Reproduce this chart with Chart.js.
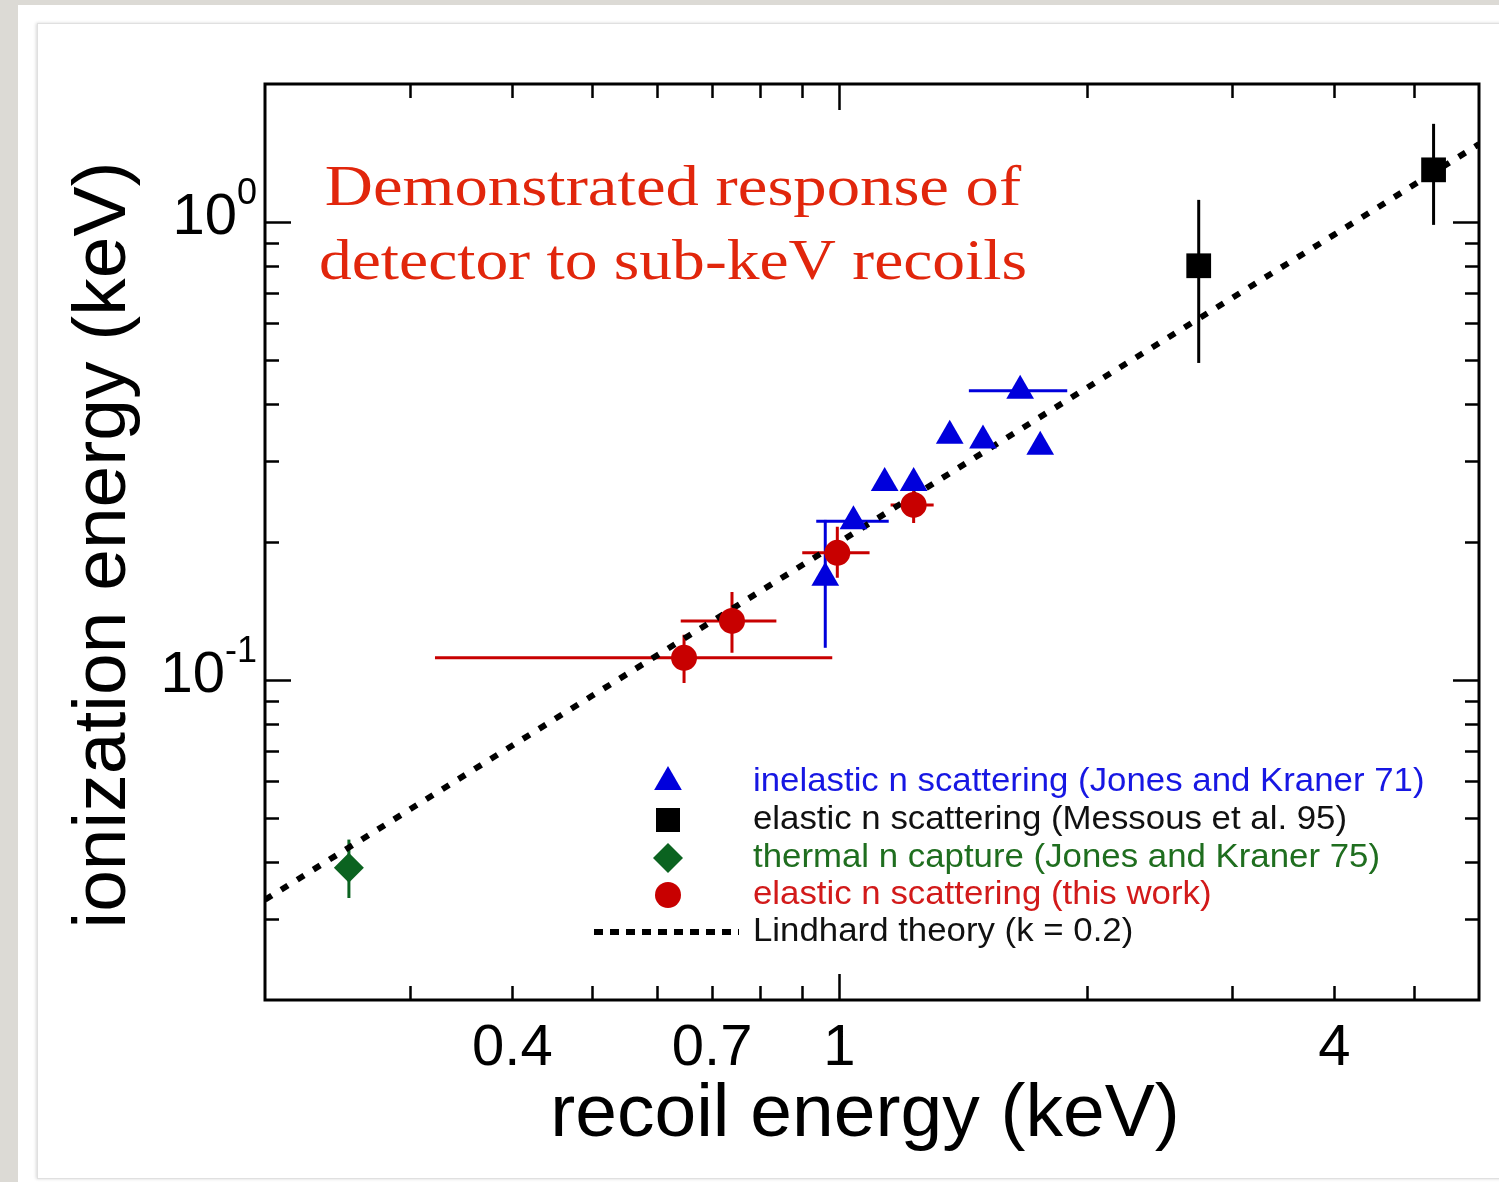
<!DOCTYPE html>
<html>
<head>
<meta charset="utf-8">
<script src="https://cdn.jsdelivr.net/npm/chart.js@4.4.0/dist/chart.umd.min.js"></script>
<style>
html, body { margin: 0; padding: 0; }
body { width: 1499px; height: 1182px; background: #dcdad5; position: relative; overflow: hidden; }
#card { position: absolute; left: 18px; top: 5px; right: 0; bottom: 0; background: #fff; }
#inner { position: absolute; left: 19px; top: 18px; right: -4px; bottom: 3px; border: 1px solid #e0e0e0; box-shadow: -1px 0 3px #d8d8d8; background: #fff; }
canvas { position: absolute; left: 0; top: 0; }
</style>
</head>
<body>
<div id="card"><div id="inner"></div></div>
<canvas id="chart" width="1499" height="1182"></canvas>
<script>
// axis ranges (log-log)
var xMin = 0.2, xMax = 6;
var yMin = 0.02, yMax = 2;

// inelastic n scattering (Jones and Kraner 71)
var inelX   = [0.961, 1.040, 1.135, 1.231, 1.362, 1.495, 1.659, 1.755];
var inelY   = [0.167, 0.222, 0.269, 0.269, 0.341, 0.333, 0.428, 0.323];
var inelXLo = [null, 0.937, null, null, null, null, 1.437, null];
var inelXHi = [null, 1.148, null, null, null, null, 1.893, null];
var inelYLo = [0.1175, null, null, null, null, null, null, null];
var inelYHi = [0.2235, null, null, null, null, null, null, null];

// elastic n scattering (Messous et al. 95)
var messX   = [2.736, 5.283];
var messY   = [0.802, 1.299];
var messYLo = [0.492, 0.985];
var messYHi = [1.117, 1.637];

// thermal n capture (Jones and Kraner 75)
var thermX   = [0.253];
var thermY   = [0.0389];
var thermYLo = [0.0334];
var thermYHi = [0.0448];

// elastic n scattering (this work)
var workX   = [0.647, 0.740, 0.994, 1.231];
var workY   = [0.1117, 0.1345, 0.1894, 0.241];
var workXLo = [0.322, 0.641, 0.901, 1.154];
var workXHi = [0.980, 0.838, 1.088, 1.302];
var workYLo = [0.0985, 0.1146, 0.167, 0.220];
var workYHi = [0.1254, 0.1556, 0.216, 0.260];

// Lindhard theory (k = 0.2)
var lindX = [0.2, 0.5, 1, 2, 4, 6];
var lindY = [0.0331, 0.0923, 0.200, 0.434, 0.938, 1.478];

// ticks
var xMajorTicks = [1];
var xMinorTicks = [0.3, 0.4, 0.5, 0.6, 0.7, 0.8, 0.9, 2, 3, 4, 5];
var xTickLabels = ['0.4', '0.7', '1', '4'];
var xLabelValues = [0.4, 0.7, 1, 4];
var yMajorTicks = [0.1, 1];
var yMinorTicks = [0.03, 0.04, 0.05, 0.06, 0.07, 0.08, 0.09, 0.2, 0.3, 0.4, 0.5, 0.6, 0.7, 0.8, 0.9];
var yLabelValues = [0.1, 1];
var yLabelExps = ['-1', '0'];

var series = [
    { label: 'inelastic n scattering (Jones and Kraner 71)', x: inelX, y: inelY, xLo: inelXLo, xHi: inelXHi, yLo: inelYLo, yHi: inelYHi,
      color: '#0000dc', text: '#1717e3', style: 'triangle', radius: 16 },
    { label: 'elastic n scattering (Messous et al. 95)', x: messX, y: messY, yLo: messYLo, yHi: messYHi,
      color: '#000000', text: '#111111', style: 'rect', radius: 17.5 },
    { label: 'thermal n capture (Jones and Kraner 75)', x: thermX, y: thermY, yLo: thermYLo, yHi: thermYHi,
      color: '#0b6320', text: '#1f6e1f', style: 'rectRot', radius: 15 },
    { label: 'elastic n scattering (this work)', x: workX, y: workY, xLo: workXLo, xHi: workXHi, yLo: workYLo, yHi: workYHi,
      color: '#c80000', text: '#d21a1a', style: 'circle', radius: 13 }
];

function toPoints(xs, ys) {
    return xs.map(function(v, i) { return { x: v, y: ys[i] }; });
}

var datasets = series.map(function(s) {
    return {
        label: s.label,
        data: toPoints(s.x, s.y),
        pointStyle: s.style,
        pointRadius: s.radius,
        pointHoverRadius: s.radius,
        backgroundColor: s.color,
        borderColor: s.color,
        borderWidth: 0,
        showLine: false,
        order: 1
    };
});
datasets.push({
    label: 'Lindhard theory (k = 0.2)',
    type: 'line',
    data: toPoints(lindX, lindY),
    borderColor: '#000',
    borderWidth: 6,
    borderDash: [8, 11],
    pointRadius: 0,
    fill: false,
    tension: 0,
    order: 10
});

function drawMarker(ctx, style, x, y, r, color) {
    ctx.fillStyle = color;
    ctx.beginPath();
    if (style === 'triangle') {
        ctx.moveTo(x, y - r);
        ctx.lineTo(x + r * Math.sqrt(3) / 2, y + r / 2);
        ctx.lineTo(x - r * Math.sqrt(3) / 2, y + r / 2);
    } else if (style === 'rect') {
        var s = r * Math.SQRT1_2;
        ctx.rect(x - s, y - s, 2 * s, 2 * s);
    } else if (style === 'rectRot') {
        ctx.moveTo(x, y - r);
        ctx.lineTo(x + r, y);
        ctx.lineTo(x, y + r);
        ctx.lineTo(x - r, y);
    } else {
        ctx.arc(x, y, r, 0, Math.PI * 2);
    }
    ctx.closePath();
    ctx.fill();
}

var decor = {
    id: 'decor',
    beforeDatasetsDraw: function(chart) {
        var ctx = chart.ctx, xs = chart.scales.x, ys = chart.scales.y;
        ctx.save();
        ctx.lineWidth = 3;
        series.forEach(function(s) {
            ctx.strokeStyle = s.color;
            s.x.forEach(function(v, i) {
                var px = xs.getPixelForValue(v), py = ys.getPixelForValue(s.y[i]);
                ctx.beginPath();
                if (s.xLo && s.xLo[i] != null) {
                    ctx.moveTo(xs.getPixelForValue(s.xLo[i]), py);
                    ctx.lineTo(xs.getPixelForValue(s.xHi[i]), py);
                }
                if (s.yLo && s.yLo[i] != null) {
                    ctx.moveTo(px, ys.getPixelForValue(s.yLo[i]));
                    ctx.lineTo(px, ys.getPixelForValue(s.yHi[i]));
                }
                ctx.stroke();
            });
        });
        ctx.restore();
    },
    afterDraw: function(chart) {
        var ctx = chart.ctx, a = chart.chartArea;
        var xs = chart.scales.x, ys = chart.scales.y;
        ctx.save();

        // frame
        ctx.strokeStyle = '#000';
        ctx.lineWidth = 3;
        ctx.strokeRect(a.left, a.top, a.right - a.left, a.bottom - a.top);

        // inward ticks on all four sides
        ctx.lineWidth = 2.5;
        function xTick(v, len) {
            var px = Math.round(xs.getPixelForValue(v)) + 0.5;
            ctx.beginPath();
            ctx.moveTo(px, a.top); ctx.lineTo(px, a.top + len);
            ctx.moveTo(px, a.bottom); ctx.lineTo(px, a.bottom - len);
            ctx.stroke();
        }
        function yTick(v, len) {
            var py = Math.round(ys.getPixelForValue(v)) + 0.5;
            ctx.beginPath();
            ctx.moveTo(a.left, py); ctx.lineTo(a.left + len, py);
            ctx.moveTo(a.right, py); ctx.lineTo(a.right - len, py);
            ctx.stroke();
        }
        xMajorTicks.forEach(function(v) { xTick(v, 26); });
        xMinorTicks.forEach(function(v) { xTick(v, 14); });
        yMajorTicks.forEach(function(v) { yTick(v, 26); });
        yMinorTicks.forEach(function(v) { yTick(v, 14); });

        // tick labels
        ctx.fillStyle = '#000';
        ctx.font = '58px "Liberation Sans", Arial, sans-serif';
        ctx.textAlign = 'center';
        ctx.textBaseline = 'alphabetic';
        xLabelValues.forEach(function(v, i) {
            ctx.fillText(xTickLabels[i], xs.getPixelForValue(v), a.bottom + 65);
        });
        yLabelValues.forEach(function(v, i) {
            var py = ys.getPixelForValue(v);
            var exp = yLabelExps[i];
            ctx.font = '36px "Liberation Sans", Arial, sans-serif';
            ctx.textAlign = 'right';
            var expRight = a.left - 8;
            var ew = ctx.measureText(exp).width;
            ctx.fillText(exp, expRight, py - 18);
            ctx.font = '58px "Liberation Sans", Arial, sans-serif';
            ctx.fillText('10', expRight - ew, py + 12);
        });

        // axis titles
        ctx.font = '75px "Liberation Sans", Arial, sans-serif';
        ctx.textAlign = 'center';
        ctx.fillText('recoil energy (keV)', 865, 1136);
        ctx.save();
        ctx.translate(125, 545);
        ctx.rotate(-Math.PI / 2);
        ctx.fillText('ionization energy (keV)', 0, 0);
        ctx.restore();

        // headline
        ctx.fillStyle = '#e1260c';
        ctx.font = '57px "Liberation Serif", "Times New Roman", serif';
        ctx.textAlign = 'center';
        ctx.save();
        ctx.translate(673, 205);
        ctx.scale(1.17, 1);
        ctx.fillText('Demonstrated response of', 0, 0);
        ctx.restore();
        ctx.save();
        ctx.translate(673, 279);
        ctx.scale(1.15, 1);
        ctx.fillText('detector to sub-keV recoils', 0, 0);
        ctx.restore();

        // legend
        var rows = [782, 820, 858, 895, 932];
        var mx = 668, tx = 753;
        ctx.font = '33px "Liberation Sans", Arial, sans-serif';
        ctx.textAlign = 'left';
        ctx.textBaseline = 'middle';
        function legendText(str, color, y) {
            ctx.save();
            ctx.fillStyle = color;
            ctx.translate(tx, y);
            ctx.scale(1.055, 1);
            ctx.fillText(str, 0, 0);
            ctx.restore();
        }
        series.forEach(function(s, i) {
            var r = s.style === 'circle' ? 13 : (s.style === 'rectRot' ? 15 : (s.style === 'rect' ? 17 : 16));
            drawMarker(ctx, s.style, mx, rows[i], r, s.color);
            legendText(s.label, s.text, rows[i]);
        });
        ctx.strokeStyle = '#000';
        ctx.lineWidth = 6;
        ctx.setLineDash([9, 7]);
        ctx.beginPath();
        ctx.moveTo(594, rows[4]);
        ctx.lineTo(739, rows[4]);
        ctx.stroke();
        ctx.setLineDash([]);
        legendText('Lindhard theory (k = 0.2)', '#111', rows[4]);

        ctx.restore();
    }
};

var chart = new Chart(document.getElementById('chart').getContext('2d'), {
    type: 'scatter',
    data: { datasets: datasets },
    options: {
        responsive: false,
        animation: false,
        devicePixelRatio: 1,
        layout: { padding: { left: 265, top: 84, right: 20, bottom: 182 } },
        plugins: { legend: { display: false }, tooltip: { enabled: false } },
        scales: {
            x: { type: 'logarithmic', min: xMin, max: xMax, display: false },
            y: { type: 'logarithmic', min: yMin, max: yMax, display: false }
        }
    },
    plugins: [decor]
});
</script>
</body>
</html>
